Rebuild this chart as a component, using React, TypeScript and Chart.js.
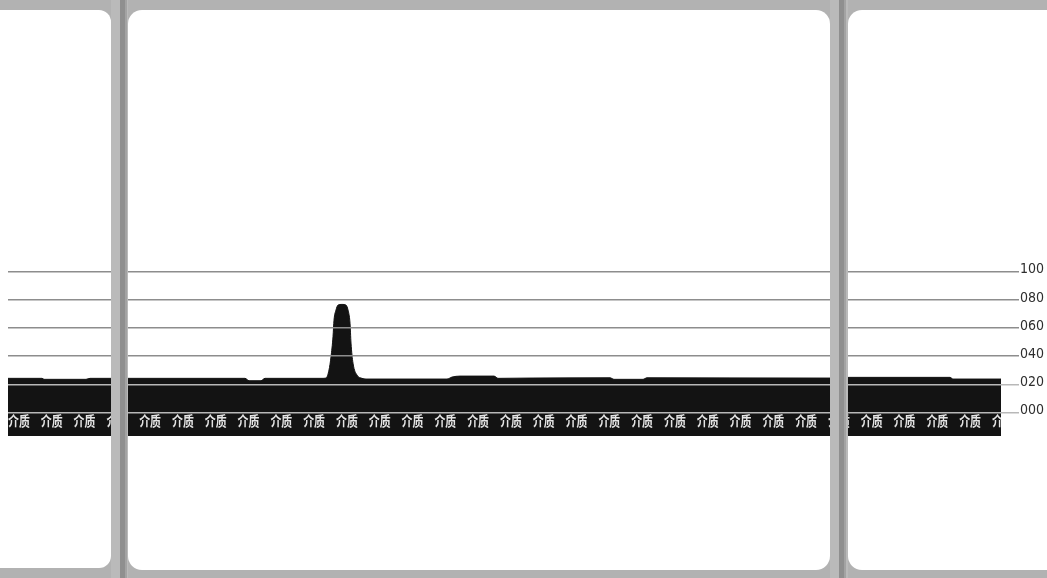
import { useEffect, useRef } from "react";
import { Chart, registerables } from "chart.js";

Chart.register(...registerables);

// Media sensor profile: position along the media (dots) and sensor reading
const positions = [
  0, 34, 36, 78, 82, 172, 237, 241, 253, 257, 314, 318, 321, 323, 325, 326, 328, 330, 334, 338,
  340, 342, 343, 345, 349, 354, 358, 439, 444, 452, 486, 490, 522, 602, 606, 635, 639, 822, 842,
  942, 945, 993,
];
const readings = [
  24.2, 24.2, 23.5, 23.5, 24.2, 24.2, 24.2, 22.5, 22.5, 24.2, 24.2, 24.4, 30.1, 39.5, 53.8, 65.6,
  72.8, 76.3, 76.8, 76.3, 72.8, 63.5, 49.3, 35, 26.5, 24.2, 23.7, 23.7, 25.1, 25.8, 25.8, 24.2,
  24.4, 24.6, 23.5, 23.5, 24.6, 24.4, 24.9, 24.9, 23.7, 23.7,
];
const tickValues = [0, 20, 40, 60, 80, 100];
const tickLabels = ["000", "020", "040", "060", "080", "100"];
const bandText = "介质";

const W = 1047;
const H = 578;

// label stock geometry (style only)
const labelRects: [number, number, number, number, number][] = [
  [-30, 111, 10, 568, 12],
  [128, 830, 10, 570, 14],
  [848, 1080, 10, 570, 14],
];
const gaps: [number, number][] = [
  [111, 128],
  [830, 848],
];

const stockPlugin = {
  id: "labelStock",
  beforeDraw(chart: any) {
    const ctx = chart.ctx as CanvasRenderingContext2D;
    ctx.save();
    ctx.fillStyle = "#b2b2b2";
    ctx.fillRect(0, 0, W, H);
    ctx.fillStyle = "#ffffff";
    for (const [x0, x1, y0, y1, r] of labelRects) {
      ctx.beginPath();
      (ctx as any).roundRect(x0, y0, x1 - x0, y1 - y0, r);
      ctx.fill();
    }
    ctx.restore();
  },
  afterDraw(chart: any) {
    const ctx = chart.ctx as CanvasRenderingContext2D;
    const area = chart.chartArea;
    const yScale = chart.scales.y;
    const ty = yScale.getPixelForValue(-5.6);
    ctx.save();
    ctx.beginPath();
    ctx.rect(area.left, ty - 12, area.right - area.left, 24);
    ctx.clip();
    ctx.fillStyle = "#e4e4e4";
    ctx.font = 'bold 14px "Noto Sans CJK SC"';
    ctx.textBaseline = "middle";
    ctx.textAlign = "left";
    for (let x = area.left; x < area.right; x += 32.8) {
      ctx.save();
      ctx.translate(x, ty);
      ctx.scale(0.78, 1);
      ctx.fillText(bandText, 0, 0);
      ctx.restore();
    }
    ctx.restore();

    ctx.save();
    for (const [g0, g1] of gaps) {
      ctx.fillStyle = "#bababa";
      ctx.fillRect(g0, 0, g1 - g0, H);
      ctx.fillStyle = "#8f8f8f";
      ctx.fillRect(g0 + 9, 0, 5, H);
      ctx.fillStyle = "#a3a3a3";
      ctx.fillRect(g0 + 14, 0, 2, H);
    }
    ctx.restore();
  },
};

export default function App() {
  const ref = useRef<HTMLCanvasElement | null>(null);

  useEffect(() => {
    if (!ref.current) return;
    const data = positions.map((x, i) => ({ x, y: readings[i] }));
    const chart = new Chart(ref.current, {
      type: "line",
      data: {
        datasets: [
          {
            data,
            fill: "start",
            backgroundColor: "#131313",
            borderColor: "#131313",
            borderWidth: 1,
            pointRadius: 0,
            cubicInterpolationMode: "monotone",
          },
        ],
      },
      options: {
        responsive: false,
        animation: false,
        events: [],
        layout: { padding: { left: 8, right: 0, top: 0, bottom: 142 } },
        plugins: { legend: { display: false }, tooltip: { enabled: false } },
        scales: {
          x: {
            type: "linear",
            display: false,
            min: 0,
            max: 993,
          },
          y: {
            position: "right",
            min: -16.8,
            max: 293.3,
            border: { display: false },
            afterBuildTicks: (scale: any) => {
              scale.ticks = tickValues.map((v) => ({ value: v }));
            },
            afterFit: (scale: any) => {
              scale.width = 46;
              scale.paddingTop = 0;
              scale.paddingBottom = 0;
            },
            grid: {
              z: 1,
              color: (c: any) => (c.tick && c.tick.value <= 20 ? "#b8b8b8" : "#8d8d8d"),
              lineWidth: 1.5,
              tickLength: 18,
              drawTicks: true,
            },
            ticks: {
              padding: 1,
              labelOffset: -2,
              color: "#2e2e2e",
              font: { family: '"Liberation Sans Narrow", "DejaVu Sans Condensed", sans-serif', size: 14 },
              callback: (v: any) => {
                const i = tickValues.indexOf(Number(v));
                return i >= 0 ? tickLabels[i] : "";
              },
            },
          },
        },
      },
      plugins: [stockPlugin],
    } as any);
    return () => chart.destroy();
  }, []);

  return (
    <div style={{ position: "fixed", left: 0, top: 0, width: W, height: H }}>
      <canvas ref={ref} width={W} height={H} style={{ display: "block" }} />
    </div>
  );
}
